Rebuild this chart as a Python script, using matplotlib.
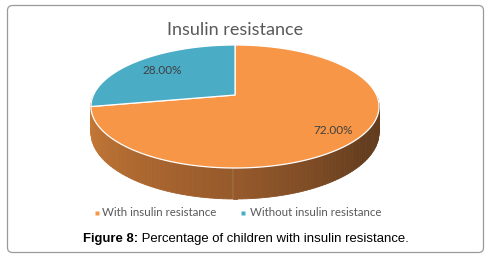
import numpy as np
import matplotlib
matplotlib.use("Agg")
import matplotlib.pyplot as plt
from matplotlib.patches import Polygon, FancyBboxPatch
from matplotlib.colors import to_rgb

# данные
labels = ["With insulin resistance", "Without insulin resistance"]
values = [72.0, 28.0]
colors = ["#F79646", "#4BACC6"]
title = "Insulin resistance"
caption_bold = "Figure 8:"
caption_rest = " Percentage of children with insulin resistance."

# параметры псевдо-3D проекции (в пикселях)
CX, CY = 235, 95       # центр пирога
A, B = 141.5, 59.35    # полуоси
E = 0.187              # перспектива
H = 25.2               # толщина


def proj(t, depth=0.0):
    # t в градусах, 90 = верх (дальняя точка)
    r = np.radians(t)
    px, pz = np.cos(r), np.sin(r)
    s = 1.0 / (1.0 + E * pz)
    return CX + A * px * s, CY - B * pz * s + H * depth * s


def main():
    fig = plt.figure(figsize=(4.9, 2.59), dpi=100)
    ax = fig.add_axes([0, 0, 1, 1])
    ax.set_xlim(0, 490)
    ax.set_ylim(259, 0)
    ax.axis("off")

    # рамка
    ax.add_patch(FancyBboxPatch((7.5, 5.5), 476, 247, boxstyle="round,pad=0,rounding_size=5",
                                fc="white", ec="#9a9a9a", lw=0.9))

    # углы секторов: начинаем с 12 часов
    total = sum(values)
    start = 90.0
    spans = []
    a0 = start - 360 * values[0] / total
    spans.append((a0, start))
    spans.append((start, start + 360 * values[1] / total))

    # боковая стенка (видна только передняя часть оранжевого сектора)
    c_left = np.array(to_rgb("#CF7E38"))
    c_mid = np.array(to_rgb("#96592B"))
    c_right = np.array(to_rgb("#633D1E"))
    ts = np.linspace(180, 360, 120)
    for i in range(len(ts) - 1):
        t1, t2 = ts[i], ts[i + 1]
        x1, y1 = proj(t1)
        x2, y2 = proj(t2)
        x3, y3 = proj(t2, 1)
        x4, y4 = proj(t1, 1)
        f = (t1 - 180) / 180
        if f < 0.5:
            col = c_left + (c_mid - c_left) * (f / 0.5)
        else:
            col = c_mid + (c_right - c_mid) * min(1, (f - 0.5) / 0.3)
        ax.add_patch(Polygon([(x1, y1), (x2, y2), (x3, y3), (x4, y4)], closed=True,
                             fc=col, ec=col, lw=0.6))

    # верхние грани секторов
    for (t0, t1), col in zip(spans, colors):
        tt = np.linspace(t0, t1, 200)
        xs, ys = proj(tt)
        pts = [(CX, CY)] + list(zip(xs, ys))
        ax.add_patch(Polygon(pts, closed=True, fc=col, ec="white", lw=0.9, joinstyle="round"))

    # подписи процентов
    ax.text(333, 130, f"{values[0]:.2f}%", ha="center", va="center",
            fontsize=8.5, color="#404040", family="Lato")
    ax.text(162, 71, f"{values[1]:.2f}%", ha="center", va="center",
            fontsize=8.5, color="#404040", family="Lato")

    # заголовок
    ax.text(235, 30, title, ha="center", va="center", fontsize=13, color="#595959", family="Lato")

    # легенда
    ax.plot([96.5], [213], marker="s", ms=2.2, color=colors[0], mec="none")
    ax.text(102, 213, labels[0], ha="left", va="center", fontsize=8.3, color="#595959", family="Lato")
    ax.plot([242.5], [213], marker="s", ms=2.2, color=colors[1], mec="none")
    ax.text(250, 213, labels[1], ha="left", va="center", fontsize=8.3, color="#595959", family="Lato")

    # подпись рисунка
    t = ax.text(83, 239, caption_bold, ha="left", va="center", fontsize=9.45,
                fontweight="bold", family="Liberation Sans", color="black")
    fig.canvas.draw()
    bb = t.get_window_extent()
    x_end = ax.transData.inverted().transform((bb.x1, bb.y0))[0]
    ax.text(x_end, 239, caption_rest, ha="left", va="center", fontsize=9.45,
            family="Liberation Sans", color="black")

    fig.savefig("out.png", dpi=100)


if __name__ == "__main__":
    main()
